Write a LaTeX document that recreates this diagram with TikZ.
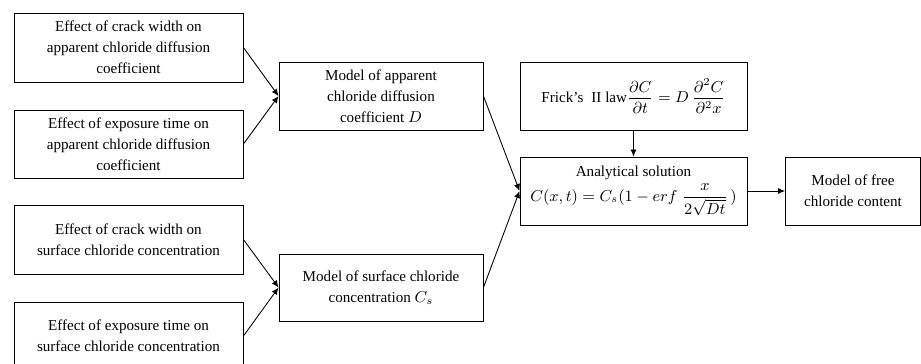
\documentclass[tikz,border=0pt]{standalone}
\usepackage{fontspec}
\setmainfont{Liberation Serif}
\usepackage{amsmath}
\usetikzlibrary{arrows.meta}
\begin{document}
\begin{tikzpicture}[>={Latex[length=4pt,width=3.5pt]},
  box/.style={draw, align=center, inner sep=1pt, font=\fontsize{8.6}{12}\selectfont},
  every path/.style={line width=0.5pt}]
\useasboundingbox (0,0) rectangle (18.42,-7.26);
\node[box, minimum width=4.58cm, minimum height=1.38cm] (a) at (2.57,-0.95) {Effect of crack width on\\apparent chloride diffusion\\coefficient};
\node[box, minimum width=4.58cm, minimum height=1.36cm] (b) at (2.57,-2.88) {Effect of exposure time on\\apparent chloride diffusion\\coefficient};
\node[box, minimum width=4.58cm, minimum height=1.38cm] (c) at (2.57,-4.79) {Effect of crack width on\\surface chloride concentration};
\node[box, minimum width=4.58cm, minimum height=1.36cm] (d) at (2.57,-6.72) {Effect of exposure time on\\surface chloride concentration};
\node[box, minimum width=4.08cm, minimum height=1.36cm] (md) at (7.62,-1.92) {Model of apparent\\chloride diffusion\\coefficient $D$};
\node[box, minimum width=4.08cm, minimum height=1.34cm] (mc) at (7.62,-5.75) {Model of surface chloride\\concentration $C_s$};
\node[box, minimum width=4.54cm, minimum height=1.36cm] (law) at (12.67,-1.92) {Frick's\; II law$\dfrac{\partial C}{\partial t} = D\,\dfrac{\partial^2 C}{\partial^2 x}$};
\node[box, inner sep=0pt, minimum width=4.54cm, minimum height=1.36cm] (sol) at (12.67,-3.82) {Analytical solution\\[2pt]$C(x,t) = C_s(1 - erf\;\dfrac{x}{2\sqrt{Dt}}\,)$};
\node[box, minimum width=2.7cm, minimum height=1.36cm] (free) at (17.06,-3.82) {Model of free\\chloride content};
\draw[->] (a.east) -- (md.west);
\draw[->] (b.east) -- (md.west);
\draw[->] (c.east) -- (mc.west);
\draw[->] (d.east) -- (mc.west);
\draw[->] (md.east) -- (sol.west);
\draw[->] (mc.east) -- (sol.west);
\draw[->] (law) -- (sol);
\draw[->] (sol) -- (free);
\end{tikzpicture}
\end{document}
